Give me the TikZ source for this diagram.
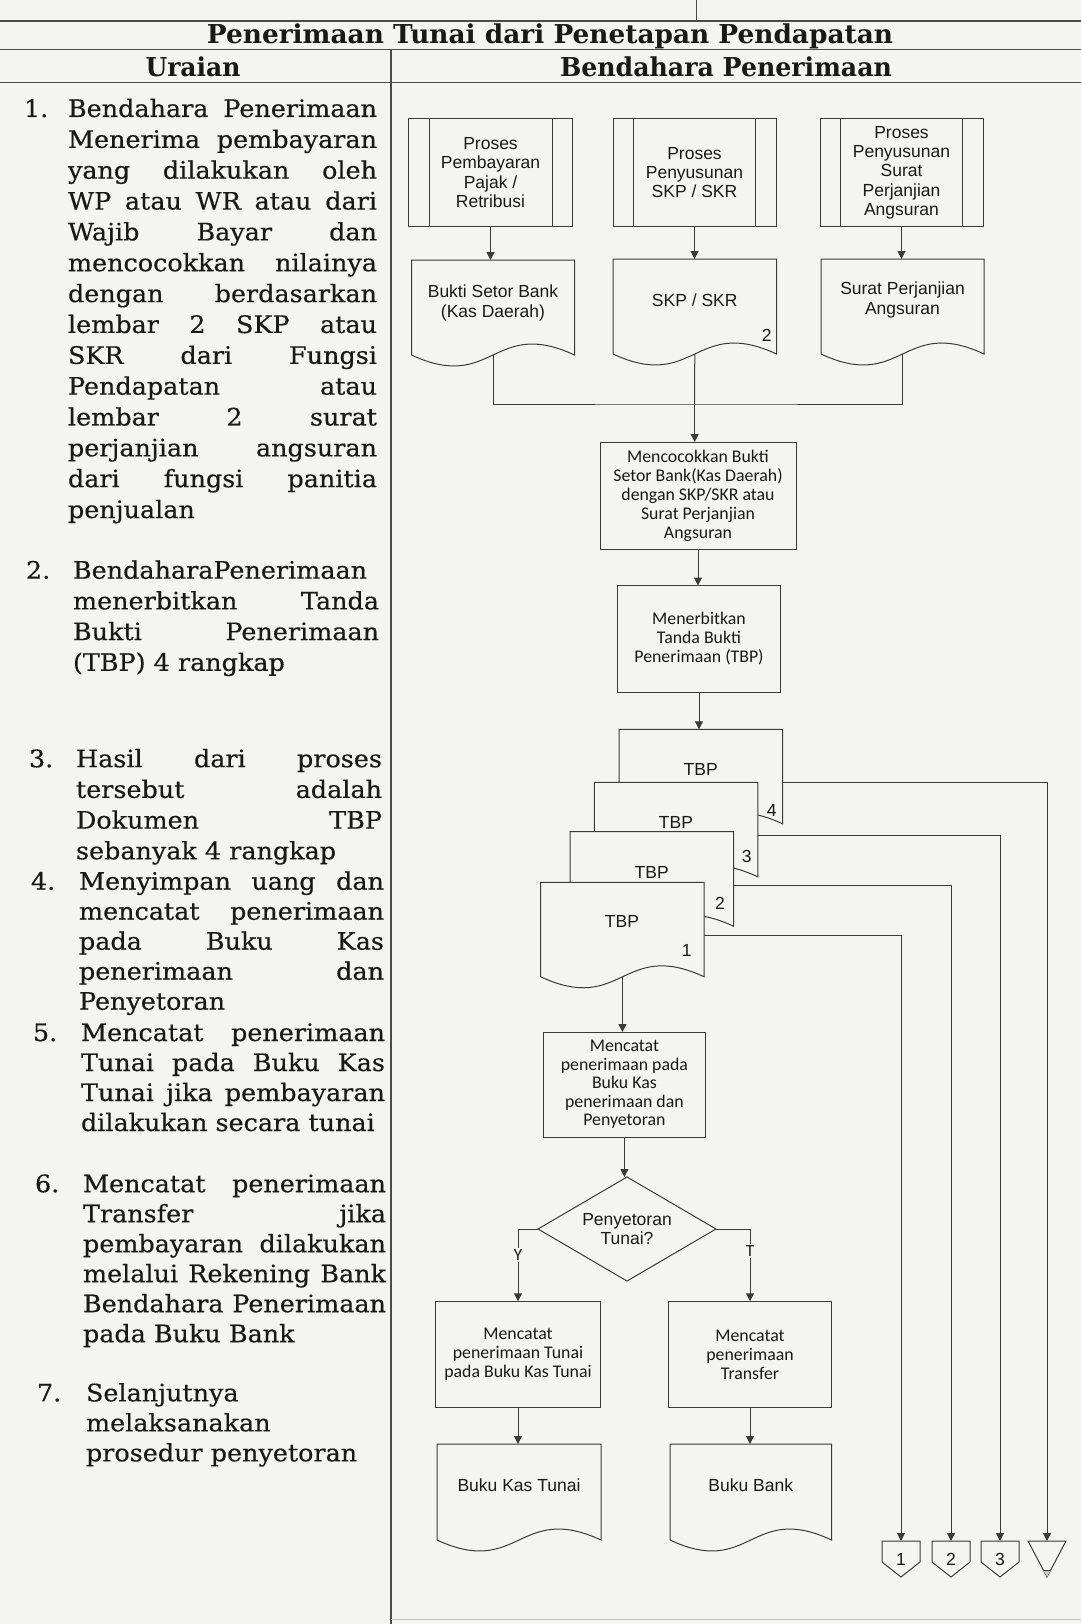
\documentclass[tikz,border=0pt]{standalone}
\usepackage{graphicx}
\usepackage{fontspec}
\setmainfont[FakeStretch=1.06,FakeBold=0.4]{DejaVu Serif}
\newfontfamily\headfont{DejaVu Serif}
\newfontfamily\arialf{Liberation Sans}
\newfontfamily\calf{Carlito}
\usetikzlibrary{arrows.meta,shapes.geometric}

\definecolor{paper}{RGB}{244,244,243}
\definecolor{ink}{RGB}{25,25,25}
\definecolor{rulec}{RGB}{75,75,75}
\definecolor{stroke}{RGB}{58,58,58}

% justified line of the description column
\newlength\jw
\newcommand\jl[1]{\makebox[\jw][s]{#1}}

% one numbered entry of the description column:
% name, number x, text x, top y, line pitch, line width, number, lines
\newcommand\uitem[8]{%
  \setlength{\jw}{#6pt}%
  \node[ltx, anchor=north west, font=\fontsize{24}{#5}\selectfont] (#1n) at (#2,#4) {\strut #7};
  \node[ltx, anchor=north west, align=left, font=\fontsize{24}{#5}\selectfont] (#1) at (#3,#4) {\strut #8};
}

% document symbol: name, left, top, width, side height
\newcommand\docshape[5]{%
  \pgfmathsetmacro\dsR{#2+#4}%
  \pgfmathsetmacro\dsB{#3+#5}%
  \pgfmathsetmacro\dsM{#2+#4/2}%
  \filldraw[docln] (#2,#3) -- (\dsR,#3) -- (\dsR,\dsB)
     .. controls (\dsM,\dsB-38) and (\dsM,\dsB+38) .. (#2,\dsB) -- cycle;
  \coordinate (#1-top) at (\dsM,#3);
  \coordinate (#1-bot) at (\dsM,\dsB);
  \coordinate (#1-r) at (\dsR,#3+53.5);
}

% off-page connector: name, centre x, label
\newcommand\offpage[3]{%
  \filldraw[docln] (#2-19,1541) -- (#2+19,1541) -- (#2+19,1562) -- (#2,1577) -- (#2-19,1562) -- cycle;
  \node[ar, minimum width=38pt, minimum height=36pt, anchor=north] (#1) at (#2,1541) {#3};
}

\begin{document}
\begin{tikzpicture}[x=1pt,y=-1pt,
  tbl/.style={draw=rulec, line width=1.3pt},
  ln/.style={draw=stroke, line width=1pt},
  arr/.style={ln, -{Triangle[length=8pt,width=8pt]}},
  docln/.style={draw=stroke, fill=paper, line width=1pt},
  ar/.style={font=\arialf\fontsize{17.5}{19.3}\selectfont, text=ink, align=center, inner sep=0pt},
  cb/.style={font=\calf\fontsize{17.8}{19}\selectfont, text=ink, align=center, inner sep=0pt},
  pd/.style={ar, draw=stroke, fill=paper, line width=1pt, outer sep=0pt, minimum height=108pt},
  pr/.style={cb, draw=stroke, fill=paper, line width=1pt, outer sep=0pt},
  dia/.style={ar, diamond, aspect=1.7, draw=stroke, fill=paper, line width=1pt, outer sep=0pt,
              minimum width=178pt, minimum height=104pt},
  yn/.style={font=\calf\fontsize{17}{19}\selectfont, text=ink, fill=paper, inner sep=1.5pt},
  ltx/.style={text=ink, inner sep=0pt, outer sep=0pt},
  hd/.style={ltx, font=\headfont\bfseries\fontsize{26}{30}\selectfont},
]
\fill[paper] (0,0) rectangle (1081,1624);
\useasboundingbox (0,0) rectangle (1081,1624);

% ---------- table frame ----------
\draw[tbl, line width=0.8pt] (696,0) -- (696,21);
\draw[tbl] (0,21) -- (1081,21);
\draw[tbl] (0,49.5) -- (1081,49.5);
\draw[tbl] (0,82.5) -- (1081,82.5);
\draw[tbl] (391,49.5) -- (391,1624);
\draw[tbl, draw=rulec!35, line width=1pt] (391,1619) -- (1081,1619);

\node[hd] (title) at (550,36) {\resizebox{686pt}{\height}{Penerimaan Tunai dari Penetapan Pendapatan}};
\node[hd] (hU) at (193,66.5) {\resizebox{95pt}{\height}{Uraian}};
\node[hd] (hB) at (726,66.5) {\resizebox{332pt}{\height}{Bendahara Penerimaan}};

% ---------- description column ----------
\uitem{u1}{24}{68}{95.4}{30.85}{309}{1.}{%
\jl{Bendahara Penerimaan}\\
\jl{Menerima pembayaran}\\
\jl{yang dilakukan oleh}\\
\jl{WP atau WR atau dari}\\
\jl{Wajib Bayar dan}\\
\jl{mencocokkan nilainya}\\
\jl{dengan berdasarkan}\\
\jl{lembar 2 SKP atau}\\
\jl{SKR dari Fungsi}\\
\jl{Pendapatan atau}\\
\jl{lembar 2 surat}\\
\jl{perjanjian angsuran}\\
\jl{dari fungsi panitia}\\
penjualan}
\uitem{u2}{26}{73}{557.2}{30.7}{306}{2.}{%
BendaharaPenerimaan\\
\jl{menerbitkan Tanda}\\
\jl{Bukti Penerimaan}\\
(TBP) 4 rangkap}
\uitem{u3}{29}{76}{745.7}{30.7}{306}{3.}{%
\jl{Hasil dari proses}\\
\jl{tersebut adalah}\\
\jl{Dokumen TBP}\\
sebanyak 4 rangkap}
\uitem{u4}{31}{79}{868.7}{30.0}{305}{4.}{%
\jl{Menyimpan uang dan}\\
\jl{mencatat penerimaan}\\
\jl{pada Buku Kas}\\
\jl{penerimaan dan}\\
Penyetoran}
\uitem{u5}{33}{81}{1020}{30.0}{304}{5.}{%
\jl{Mencatat penerimaan}\\
\jl{Tunai pada Buku Kas}\\
\jl{Tunai jika pembayaran}\\
dilakukan secara tunai}
\uitem{u6}{35}{83}{1171.2}{30.0}{303}{6.}{%
\jl{Mencatat penerimaan}\\
\jl{Transfer jika}\\
\jl{pembayaran dilakukan}\\
\jl{melalui Rekening Bank}\\
\jl{Bendahara Penerimaan}\\
pada Buku Bank}
\uitem{u7}{37}{86}{1380.3}{30.0}{303}{7.}{%
Selanjutnya\\
melaksanakan\\
prosedur penyetoran}

% ---------- flowchart: sources ----------
\node[pd, minimum width=164pt] (pA) at (490.5,172.5) {Proses\\Pembayaran\\Pajak /\\Retribusi};
\node[pd, minimum width=163pt] (pB) at (694.5,172.5) {Proses\\Penyusunan\\SKP / SKR};
\node[pd, minimum width=163pt] (pC) at (901.5,172.5) {Proses\\Penyusunan\\Surat\\Perjanjian\\Angsuran};
\foreach \n in {pA,pB,pC}{
  \draw[ln] ([xshift=20.5pt]\n.north west) -- ([xshift=20.5pt]\n.south west);
  \draw[ln] ([xshift=-20.5pt]\n.north east) -- ([xshift=-20.5pt]\n.south east);
}

\docshape{dA}{411.5}{260}{163}{95}
\node[ar] (dAt) at (493,303) {Bukti Setor Bank\\(Kas Daerah)};
\docshape{dB}{613}{259}{163.5}{95}
\node[ar] (dBt) at (694.7,300) {SKP / SKR};
\node[ar] (dBn) at (766.7,335) {2};
\docshape{dC}{821}{259}{163}{95}
\node[ar] (dCt) at (902.5,300) {Surat Perjanjian\\Angsuran};

\draw[arr] (pA.south) -- (pA.south |- dA-top);
\draw[arr] (pB.south) -- (pB.south |- dB-top);
\draw[arr] (pC.south) -- (pC.south |- dC-top);

\coordinate (jn) at (694.7,404);
\draw[ln] (dA-bot) |- (jn) -| (dC-bot);
\draw[ln] (dB-bot) -- (jn);

% ---------- main column ----------
\node[pr, minimum width=196pt, minimum height=107pt] (mM) at (698,495.5)
  {Mencocokkan Bukti\\Setor Bank(Kas Daerah)\\dengan SKP/SKR atau\\Surat Perjanjian\\Angsuran};
\node[pr, minimum width=163.5pt, minimum height=107pt] (mN) at (699,639)
  {Menerbitkan\\Tanda Bukti\\Penerimaan (TBP)};
\draw[arr] (jn) -- (jn |- mM.north);
\draw[arr] (mM.south) -- (mM.south |- mN.north);

% TBP copies, back to front
\docshape{t4}{619}{729.3}{163.5}{94.5}
\node[ar] (t4t) at (700.7,769) {TBP};
\node[ar] (t4n) at (771.7,810) {4};
\docshape{t3}{594.3}{782.3}{163.5}{94.5}
\node[ar] (t3t) at (676,822.5) {TBP};
\node[ar] (t3n) at (746.7,856.7) {3};
\docshape{t2}{570}{831.7}{163.5}{94.5}
\node[ar] (t2t) at (651.7,872.5) {TBP};
\node[ar] (t2n) at (720,903) {2};
\docshape{t1}{540.7}{882.3}{163.5}{94.5}
\node[ar] (t1t) at (622,921) {TBP};
\node[ar] (t1n) at (686.7,950) {1};

\draw[arr] (mN.south) -- (mN.south |- t4-top);

% off-page connectors
\offpage{c1}{901}{1}
\offpage{c2}{951}{2}
\offpage{c3}{1000}{3}
\filldraw[docln] (1028,1541) -- (1066,1541) -- (1047,1577) -- cycle;
\fill[gray!45] (1043.2,1570) -- (1050.8,1570) -- (1047,1577) -- cycle;
\draw[ln] (1043.2,1570) -- (1050.8,1570);
\node[ltx, minimum width=38pt, minimum height=36pt, anchor=north] (c4) at (1047,1541) {};

\draw[arr] (t4-r) -| (c4.north);
\draw[arr] (t3-r) -| (c3.north);
\draw[arr] (t2-r) -| (c2.north);
\draw[arr] (t1-r) -| (c1.north);

\node[pr, minimum width=162pt, minimum height=105pt, font=\calf\fontsize{17.8}{18.6}\selectfont] (mP) at (624.4,1084.5)
  {Mencatat\\penerimaan pada\\Buku Kas\\penerimaan dan\\Penyetoran};
\draw[arr] (t1-bot) -- (t1-bot |- mP.north);

\node[dia] (dia) at (627,1229) {Penyetoran\\Tunai?};
\draw[arr] (mP.south) -- (mP.south |- dia.north);

\node[pr, minimum width=164.5pt, minimum height=106.5pt] (mQ) at (518,1354.5)
  {Mencatat\\penerimaan Tunai\\pada Buku Kas Tunai};
\node[pr, minimum width=162.5pt, minimum height=106.5pt] (mR) at (750,1354.5)
  {Mencatat\\penerimaan\\Transfer};

\draw[arr] (dia.west) -| node[yn, pos=0.68] (lY) {Y} (mQ.north);
\draw[arr] (dia.east) -| node[yn, pos=0.65] (lT) {T} (mR.north);

\docshape{dK}{437}{1444}{164}{96}
\node[ar] (dKt) at (519,1485) {Buku Kas Tunai};
\docshape{dL}{670}{1444}{161.5}{96}
\node[ar] (dLt) at (750.7,1485) {Buku Bank};

\draw[arr] (mQ.south) -- (mQ.south |- dK-top);
\draw[arr] (mR.south) -- (mR.south |- dL-top);
\end{tikzpicture}
\end{document}
